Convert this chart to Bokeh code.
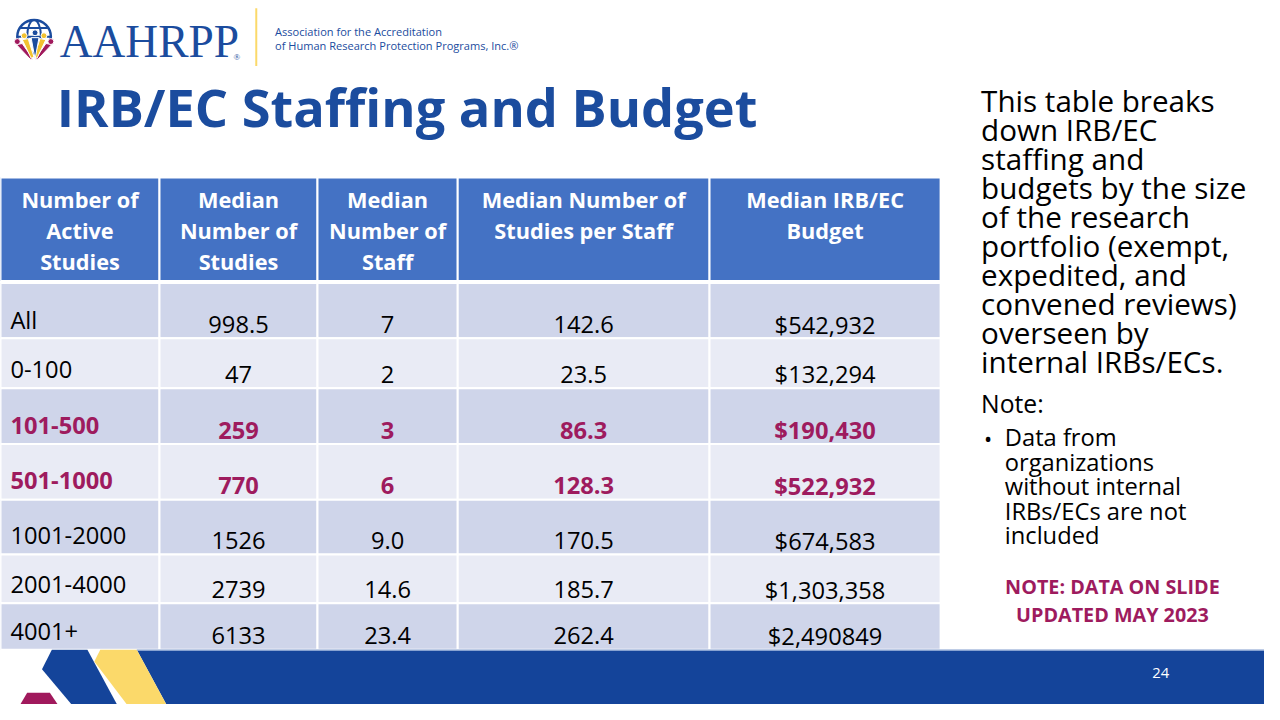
from bokeh.plotting import figure
from bokeh.models import Range1d
from bokeh.core.properties import value
from bokeh.embed import file_html
from bokeh.resources import INLINE

# ---------------- data ----------------
size_groups = ["All", "0-100", "101-500", "501-1000", "1001-2000", "2001-4000", "4001+"]
median_studies = ["998.5", "47", "259", "770", "1526", "2739", "6133"]
median_staff = ["7", "2", "3", "6", "9.0", "14.6", "23.4"]
studies_per_staff = ["142.6", "23.5", "86.3", "128.3", "170.5", "185.7", "262.4"]
median_budget = ["$542,932", "$132,294", "$190,430", "$522,932", "$674,583", "$1,303,358", "$2,490849"]
highlighted_groups = ["101-500", "501-1000"]
header_lines = [
    ["Number of", "Active", "Studies"],
    ["Median", "Number of", "Studies"],
    ["Median", "Number of", "Staff"],
    ["Median Number of", "Studies per Staff"],
    ["Median IRB/EC", "Budget"],
]
title_text = "IRB/EC Staffing and Budget"
side_lines = ["This table breaks", "down IRB/EC", "staffing and", "budgets by the size",
              "of the research", "portfolio (exempt,", "expedited, and",
              "convened reviews)", "overseen by", "internal IRBs/ECs."]
note_label = "Note:"
bullet_lines = ["Data from", "organizations", "without internal", "IRBs/ECs are not", "included"]
update_lines = ["NOTE: DATA ON SLIDE", "UPDATED MAY 2023"]
org_lines = ["Association for the Accreditation", "of Human Research Protection Programs, Inc.\u00ae"]
page_number = "24"

# ---------------- layout / style ----------------
W, H = 1264, 704
S = W / 1280.0
FONT = value("Open Sans")
BLUE_HDR = "#4472C4"
ROW_DARK = "#CFD5EA"
ROW_LIGHT = "#E9EBF5"
MAROON = "#9E1B5E"
NAVY = "#14449A"
TITLE_BLUE = "#1B4C9E"
YELLOW = "#FBD96A"

col_edges = [0, 161, 321, 463, 718, 952]
row_edges = [289, 345.5, 396.5, 453.5, 510.5, 566.5, 616.5, 664]
hdr_top, hdr_bottom = 181, 287

p = figure(width=W, height=H, x_range=Range1d(0, 1280), y_range=Range1d(720, 0),
           output_backend="svg", toolbar_location=None, min_border=0,
           x_axis_type=None, y_axis_type=None)
p.grid.visible = False
p.outline_line_color = None
p.background_fill_color = "white"
p.border_fill_color = "white"


def txt(x, y, texts, size, font=FONT, style="normal", color="black", align="left"):
    # y is the desired alphabetic baseline; compensate the renderer's offset
    p.text(x=x, y=[v - 0.4 * size for v in y], text=texts, text_font=font, text_font_style=style,
           text_font_size=value("%.2fpx" % (size * S)), text_color=color, text_align=align,
           text_baseline="alphabetic")


# header cells
ncol = len(col_edges) - 1
p.quad(left=col_edges[:-1], right=col_edges[1:], top=[hdr_top] * ncol, bottom=[hdr_bottom] * ncol,
       fill_color=BLUE_HDR, line_color="white", line_width=2)

# body cells
L, R, T, B, C = [], [], [], [], []
for i in range(len(size_groups)):
    for j in range(ncol):
        L.append(col_edges[j]); R.append(col_edges[j + 1])
        T.append(row_edges[i]); B.append(row_edges[i + 1])
        C.append(ROW_DARK if i % 2 == 0 else ROW_LIGHT)
p.quad(left=L, right=R, top=T, bottom=B, fill_color=C, line_color="white", line_width=2)

# header texts
hx, hy, ht = [], [], []
for j, lines in enumerate(header_lines):
    cx = (col_edges[j] + col_edges[j + 1]) / 2
    for k, s in enumerate(lines):
        hx.append(cx); hy.append(212.5 + 31.5 * k); ht.append(s)
txt(hx, hy, ht, 22, style="bold", color="white", align="center")

# body texts
columns = [median_studies, median_staff, studies_per_staff, median_budget]
for i, g in enumerate(size_groups):
    hl = g in highlighted_groups
    color = MAROON if hl else "black"
    style = "bold" if hl else "normal"
    bottom = row_edges[i + 1]
    txt([10], [bottom - 9.5], [g], 24, style=style, color=color)
    xs = [(col_edges[j + 1] + col_edges[j + 2]) / 2 for j in range(4)]
    txt(xs, [bottom - 4.5] * 4, [col[i] for col in columns], 24, style=style, color=color, align="center")

# title
txt([57], [130], [title_text], 53, style="bold", color=TITLE_BLUE)

# side paragraph
txt([993] * len(side_lines), [114.5 + 29.6 * k for k in range(len(side_lines))], side_lines, 30)
txt([993], [422], [note_label], 25)
txt([996], [456.5], ["\u2022"], 22)
txt([1017] * len(bullet_lines), [456.5 + 24.9 * k for k in range(len(bullet_lines))], bullet_lines, 24)
txt([1126, 1126], [607.5, 636], update_lines, 20, style="bold", color=MAROON, align="center")

# bottom band with decorative shapes
p.patches(xs=[[138, 1280, 1280, 168], [101, 138, 168, 128, 95], [52, 88, 118, 72, 42], [27, 50, 58, 20]],
          ys=[[664, 664, 720, 720], [664, 664, 720, 720, 676], [664, 664, 720, 720, 684], [708, 708, 720, 720]],
          fill_color=[NAVY, YELLOW, NAVY, "#A0195C"], line_color=None)
p.segment(x0=[138], y0=[664.5], x1=[1280], y1=[664.5], line_color="#B4C7E7", line_width=1)
txt([1175], [694], [page_number], 15, color="white", align="center")

# logo: globe icon
p.circle(x=[34], y=[37], radius=17, fill_color=None, line_color=TITLE_BLUE, line_width=2.5)
p.ellipse(x=[34], y=[37], width=14, height=34, fill_color=None, line_color=TITLE_BLUE, line_width=2)
p.segment(x0=[17, 20], y0=[37, 28], x1=[51, 48], y1=[37, 28], line_color=TITLE_BLUE, line_width=2)
p.patches(xs=[[16, 22, 33, 30], [52, 46, 35, 38], [22, 28, 34, 31], [46, 40, 34, 37], [31, 39, 35]],
          ys=[[45, 44, 60, 60], [45, 44, 60, 60], [40, 39, 58, 59], [40, 39, 58, 59], [38, 38, 60]],
          fill_color=["#A0195C", "#A0195C", "#F2C230", "#F2C230", TITLE_BLUE], line_color="white", line_width=1)
p.circle(x=[17, 51, 24, 44, 35], y=[42, 42, 36, 36, 33], radius=3,
         fill_color=["#A0195C", "#A0195C", "#F2C230", "#F2C230", TITLE_BLUE], line_color="white", line_width=1)
txt([60], [61], ["AAHRPP"], 46, font=value("Liberation Serif"), color=TITLE_BLUE)
txt([236], [61], ["\u00ae"], 9, font=value("Liberation Serif"), color=TITLE_BLUE)
p.segment(x0=[259], y0=[8], x1=[259], y1=[67], line_color=YELLOW, line_width=2)
txt([278, 278], [36, 51], org_lines, 11.2, color=TITLE_BLUE)

open("out.html", "w").write(file_html(p, INLINE))
